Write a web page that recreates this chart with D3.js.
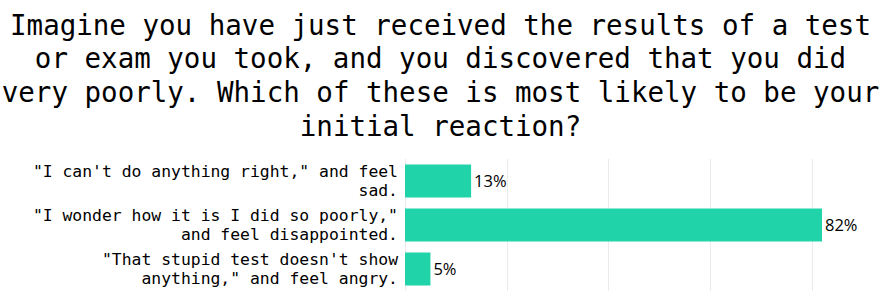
<!DOCTYPE html>
<html>
<head>
<meta charset="utf-8">
<script src="https://cdn.jsdelivr.net/npm/d3@7"></script>
<style>
  html, body { margin: 0; padding: 0; background: #fff; }
  svg { display: block; }
</style>
</head>
<body>
<svg id="chart" width="881" height="291"></svg>
<script>
const titleLines = [
  "Imagine you have just received the results of a test",
  "or exam you took, and you discovered that you did",
  "very poorly. Which of these is most likely to be your",
  "initial reaction?"
];
const categories = [
  ["\"I can't do anything right,\" and feel", "sad."],
  ["\"I wonder how it is I did so poorly,\"", "and feel disappointed."],
  ["\"That stupid test doesn't show", "anything,\" and feel angry."]
];
const values = [13, 82, 5];
const valueLabels = ["13%", "82%", "5%"];
const gridTicks = [0, 20, 40, 60, 80];

const svg = d3.select("#chart");
const W = 881;
const plotLeft = 405, plotTop = 159, plotBottom = 291;

// Title
const title = svg.append("text")
  .attr("text-anchor", "middle")
  .attr("font-family", "'DejaVu Sans Mono', monospace")
  .attr("font-size", 27.5)
  .attr("fill", "#000");
titleLines.forEach((l, i) => {
  title.append("tspan").attr("x", W / 2).attr("y", 34.5 + i * 33.9).text(l);
});

const x = d3.scaleLinear().domain([0, 90]).range([plotLeft, plotLeft + 90 * 5.085]);
const y = d3.scaleBand().domain(d3.range(values.length)).range([plotTop, plotBottom])
  .paddingInner(0.25).paddingOuter(0.125);

// Gridlines
svg.append("g").selectAll("line").data(gridTicks).join("line")
  .attr("x1", d => Math.round(x(d)) + 0.5).attr("x2", d => Math.round(x(d)) + 0.5)
  .attr("y1", plotTop).attr("y2", plotBottom)
  .attr("stroke", "#ebebeb").attr("stroke-width", 1);

// Bars
svg.append("g").selectAll("rect").data(values).join("rect")
  .attr("x", x(0))
  .attr("y", (d, i) => y(i))
  .attr("width", d => x(d) - x(0))
  .attr("height", y.bandwidth())
  .attr("fill", "#20d3a9");

// Value labels
svg.append("g").selectAll("text").data(values).join("text")
  .attr("x", d => x(d) + 3)
  .attr("y", (d, i) => y(i) + y.bandwidth() / 2)
  .attr("dy", "0.36em")
  .attr("font-family", "'Open Sans', sans-serif")
  .attr("font-size", 16.5)
  .attr("fill", "#000")
  .text((d, i) => valueLabels[i]);

// Category labels
const cat = svg.append("g").selectAll("text").data(categories).join("text")
  .attr("text-anchor", "end")
  .attr("font-family", "'DejaVu Sans Mono', monospace")
  .attr("font-size", 16.4)
  .attr("fill", "#000");
cat.each(function(lines, i) {
  const c = y(i) + y.bandwidth() / 2;
  const n = lines.length;
  lines.forEach((l, j) => {
    d3.select(this).append("tspan")
      .attr("x", plotLeft - 7)
      .attr("y", c + (j - (n - 1) / 2) * 19 + 5.5)
      .text(l);
  });
});
</script>
</body>
</html>
